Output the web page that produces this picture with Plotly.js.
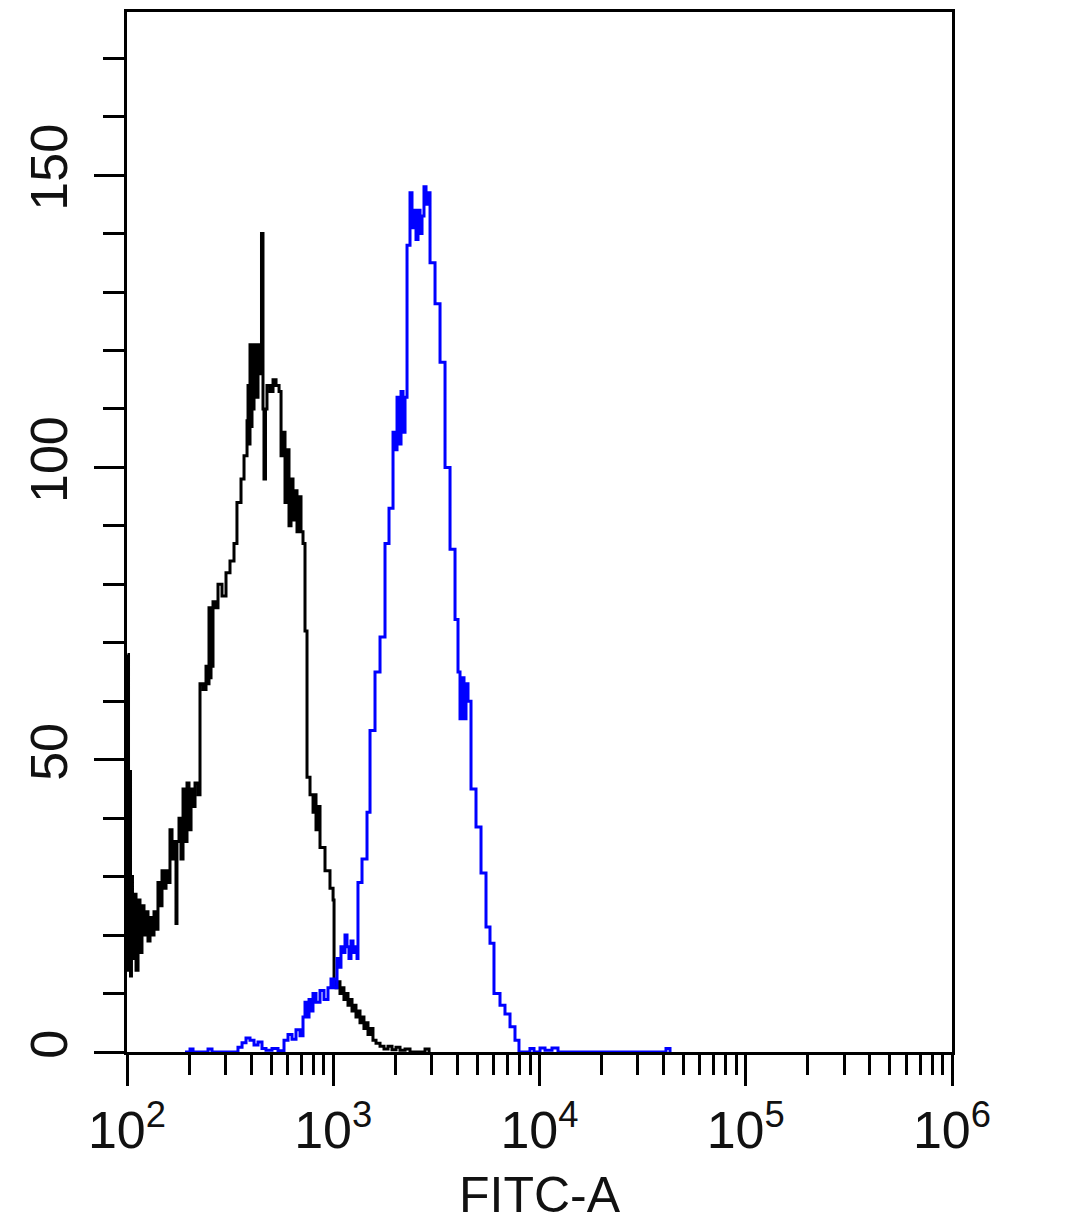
<!DOCTYPE html>
<html>
<head>
<meta charset="utf-8">
<script src="https://cdn.plot.ly/plotly-3.0.1.min.js"></script>
<style>html,body{margin:0;padding:0;background:#fff;}#chart{width:1080px;height:1223px;}</style>
</head>
<body>
<div id="chart"></div>
<script>
// Control (black) histogram: FITC-A channel value and event count
const controlX = [100.6,101.7,102.8,104.0,105.1,106.3,108.1,110.6,113.1,115.6,118.2,120.9,123.6,126.4,129.3,132.2,135.2,138.2,141.3,144.5,147.8,151.1,154.6,158.1,161.6,165.3,169.0,172.8,174.7,178.7,182.7,186.9,191.1,195.4,199.8,204.4,209.0,213.7,221.1,225.9,233.7,241.6,247.1,249.8,252.6,255.5,258.3,261.2,267.1,276.2,288.8,302.0,315.8,330.2,341.3,357.1,369.3,381.9,386.2,390.5,394.8,399.3,403.7,408.3,412.9,417.5,422.2,426.9,431.7,441.4,448.8,456.4,461.5,469.3,477.2,493.6,510.5,528.0,546.0,558.3,570.9,583.6,596.8,610.2,624.0,638.1,652.5,667.2,682.4,697.7,713.5,729.5,746.1,771.5,798.0,815.7,824.9,843.5,862.6,912.0,964.3,998.0,1009,1031.6,1054.7,1078.2,1102.6,1127,1153,1179,1205.6,1233,1261,1289,1318,1348,1378,1409,1441,1474,1507.5,1558,1612,1685.7,1762,1843,1927,2015,2107,2229,2356,2786,2914];
const controlY = [68,14,48,13,30,16,27,14,26,17,25,20,24,19,23,20,24,21,29,25,31,28,31,29,38,33,36,22,36,40,33,45,36,46,38,45,42,46,44,63,62,66,63,76,64,76,66,77,76,80,78,82,84,87,94,98,102,108,114,104,121,107,119,110,121,116,118,112,121,116,140,110,98,110,114,113,115,114,113,102,106,94,103,90,98,91,96,89,95,89,87,72,47,44,41,44,38,42,35,31,28,26,12,11,12,10,11,9,10,8,9,7,8,6,7,5,6,4,5,3,4,2,1.5,1,0.5,1,0.4,0.8,0.3,0.5,0,0.5,0];

// Stained (blue) histogram
const stainedX = [191.1,202.1,209.0,247.1,258.3,345.2,361.2,377.6,394.8,412.9,431.7,451.4,472.0,504.7,539.7,577.1,603.5,631.0,659.8,690.0,713.5,729.5,746.0,763.0,780.0,797.6,824.9,862.6,902.0,943.0,975.0,1008,1043,1066,1090,1115,1140,1166,1192,1219,1247,1275,1304,1318,1378.6,1457.8,1507.5,1594,1685.7,1782.3,1863.6,1948.9,1993,2038,2084,2131,2179,2228.6,2279,2356,2409,2464,2519,2576,2635,2694,2754,2817,2880,2946,3115,3294,3483,3683,3894,4026,4117,4210,4305,4402,4502,4655,4922,5205,5503,5754,6016,6434,6802,7195,7606,7953,8991,9404,10056,10634,11498,12294,41050,42930];
const stainedY = [0,0.5,0,0.5,0,0.8,1.6,2.4,2,1.2,1.7,0.6,0.3,0.6,0.2,2,3,2.2,3.8,2.8,6,8.5,6,9,7,10,8.5,10.5,9,11,12.5,11,16,14.5,18,17,20,18,16,19,17,18,16,29,33,41,55,65,71,87,93,106,103,112,104,113,106,112,138,147,141,144,139,144,140,143,148,145,147,135,128,118,100,86,74,65,57,64,57,63,60,45,38.5,30.6,21.4,18.6,10,8,6.5,4.3,2,0,0.6,0,0.7,0.3,0.7,0,0.6,0];

const xMajorVals = [100,1000,10000,100000,1000000];
const xMajorText = ['10<sup>2</sup>','10<sup>3</sup>','10<sup>4</sup>','10<sup>5</sup>','10<sup>6</sup>'];
const xMinorVals = [200,300,400,500,600,700,800,900,2000,3000,4000,5000,6000,7000,8000,9000,20000,30000,40000,50000,60000,70000,80000,90000,200000,300000,400000,500000,600000,700000,800000,900000];
const yMajorVals = [0,50,100,150];
const yMajorText = ['0','50','100','150'];
const xTitle = 'FITC-A';

const font = 'Liberation Sans, Arial, sans-serif';

const traces = [
  {x: controlX, y: controlY, type: 'scatter', mode: 'lines', line: {shape: 'hv', color: '#000000', width: 3}, hoverinfo: 'skip'},
  {x: stainedX, y: stainedY, type: 'scatter', mode: 'lines', line: {shape: 'hv', color: '#0000ff', width: 3}, hoverinfo: 'skip'}
];

const layout = {
  width: 1080, height: 1223,
  margin: {l: 127, r: 128, t: 12, b: 171, pad: 0},
  paper_bgcolor: '#ffffff', plot_bgcolor: '#ffffff',
  showlegend: false,
  font: {family: font, color: '#111111'},
  xaxis: {
    type: 'log', range: [2, 6],
    showgrid: false, zeroline: false,
    showline: true, mirror: true, linecolor: '#000', linewidth: 3,
    tickmode: 'array', tickvals: xMajorVals, ticktext: xMajorText,
    ticks: 'outside', ticklen: 31, tickwidth: 3, tickcolor: '#000',
    tickfont: {family: font, size: 52, color: '#111'},
    minor: {tickmode: 'array', tickvals: xMinorVals, ticks: 'outside', ticklen: 20, tickwidth: 3, tickcolor: '#000', showgrid: false},
    title: {text: xTitle, font: {family: font, size: 50, color: '#111'}, standoff: 20}
  },
  yaxis: {
    range: [0, 177.9],
    showgrid: false, zeroline: false,
    showline: true, mirror: true, linecolor: '#000', linewidth: 3,
    tickmode: 'array', tickvals: yMajorVals, ticktext: yMajorText,
    ticks: 'outside', ticklen: 30, tickwidth: 3, tickcolor: '#000',
    tickangle: -90, ticklabelstandoff: 6,
    tickfont: {family: font, size: 52, color: '#111'},
    minor: {dtick: 10, tick0: 0, ticks: 'outside', ticklen: 21, tickwidth: 3, tickcolor: '#000', showgrid: false}
  }
};

Plotly.newPlot('chart', traces, layout, {staticPlot: true, displayModeBar: false});
</script>
</body>
</html>
